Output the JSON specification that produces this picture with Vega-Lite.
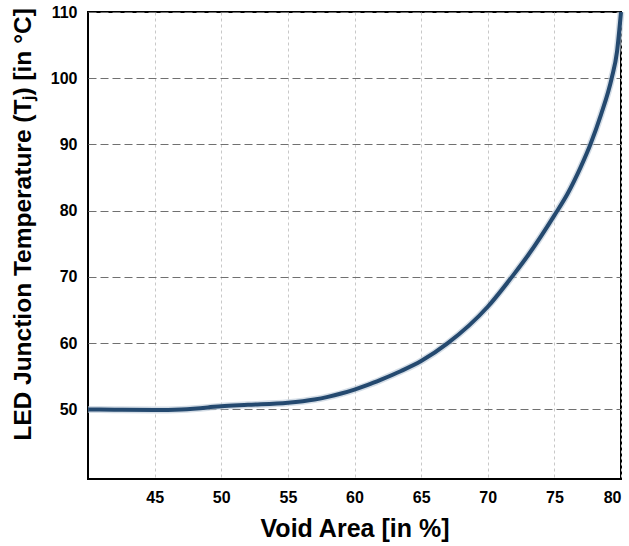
{
  "$schema": "https://vega.github.io/schema/vega-lite/v6.json",
  "width": 533,
  "height": 467,
  "autosize": "none",
  "padding": {"left": 88, "top": 12, "right": 8, "bottom": 67},
  "background": "white",
  "config": {
    "view": {"stroke": "black", "strokeWidth": 2},
    "font": "Liberation Sans"
  },
  "data": {
    "values": [
      {"void": 40, "temp": 50.0},
      {"void": 42, "temp": 49.95},
      {"void": 45, "temp": 49.9},
      {"void": 47, "temp": 50.0},
      {"void": 49, "temp": 50.3},
      {"void": 50, "temp": 50.5},
      {"void": 52, "temp": 50.7},
      {"void": 55, "temp": 51.0},
      {"void": 57, "temp": 51.5},
      {"void": 58, "temp": 51.9},
      {"void": 59, "temp": 52.4},
      {"void": 60, "temp": 53.0},
      {"void": 61, "temp": 53.7},
      {"void": 62, "temp": 54.5},
      {"void": 63.5, "temp": 55.8},
      {"void": 65, "temp": 57.3},
      {"void": 67, "temp": 60.0},
      {"void": 70, "temp": 65.5},
      {"void": 72, "temp": 70.5},
      {"void": 73, "temp": 73.2},
      {"void": 75, "temp": 79.3},
      {"void": 76, "temp": 82.6},
      {"void": 77, "temp": 86.7},
      {"void": 77.7, "temp": 90.0},
      {"void": 78.5, "temp": 94.5},
      {"void": 79.3, "temp": 100.0},
      {"void": 79.7, "temp": 104.0},
      {"void": 80, "temp": 110.0}
    ]
  },
  "encoding": {
    "x": {
      "field": "void",
      "type": "quantitative",
      "scale": {"domain": [40, 80], "nice": false, "zero": false},
      "axis": {
        "title": "Void Area [in %]",
        "values": [45, 50, 55, 60, 65, 70, 75, 80],
        "domain": false,
        "ticks": false,
        "labelPadding": 10,
        "labelFont": "Liberation Sans",
        "labelFontSize": 16,
        "labelFontWeight": "bold",
        "labelColor": "black",
        "titleFont": "Liberation Sans",
        "titleFontSize": 25,
        "titleFontWeight": "bold",
        "titleColor": "black",
        "titlePadding": 11,
        "grid": true,
        "gridColor": "#c8c8c8",
        "gridDash": [3, 3],
        "gridWidth": 1
      }
    },
    "y": {
      "field": "temp",
      "type": "quantitative",
      "scale": {"domain": [39.5, 110], "nice": false, "zero": false},
      "axis": {
        "title": "LED Junction Temperature (Tⱼ) [in °C]",
        "values": [50, 60, 70, 80, 90, 100, 110],
        "domain": false,
        "ticks": false,
        "labelPadding": 11,
        "labelFont": "Liberation Sans",
        "labelFontSize": 16,
        "labelFontWeight": "bold",
        "labelColor": "black",
        "titleFont": "Liberation Sans",
        "titleFontSize": 24.5,
        "titleFontWeight": "bold",
        "titleColor": "black",
        "titlePadding": 15,
        "titleY": 212,
        "grid": true,
        "gridColor": "#707070",
        "gridDash": [8, 4],
        "gridWidth": 1
      }
    }
  },
  "layer": [
    {
      "mark": {"type": "line", "interpolate": "monotone", "stroke": "#b8c6d6", "strokeWidth": 7, "opacity": 0.6}
    },
    {
      "mark": {"type": "line", "interpolate": "monotone", "stroke": "#24496f", "strokeWidth": 4}
    }
  ]
}
